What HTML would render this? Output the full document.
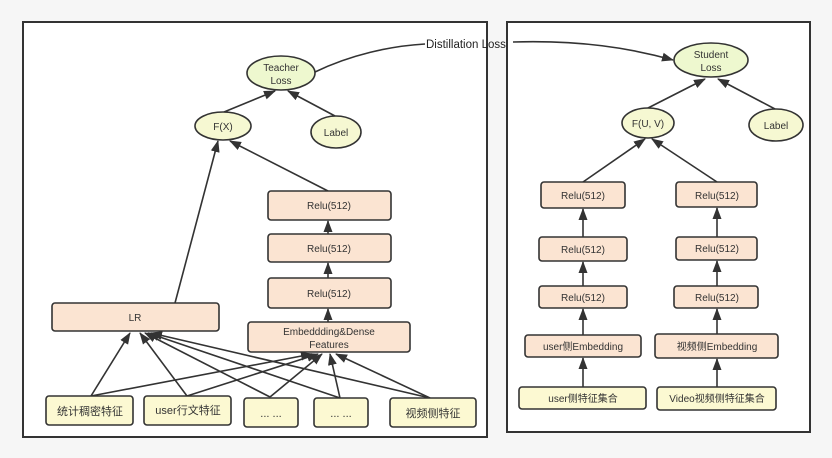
<!DOCTYPE html>
<html><head><meta charset="utf-8"><style>
html,body{margin:0;padding:0;background:#f6f6f6;}
svg{display:block;font-family:"Liberation Sans","Noto Sans CJK SC",sans-serif;}
</style></head><body>
<svg width="832" height="458" viewBox="0 0 832 458" xmlns="http://www.w3.org/2000/svg">
<defs>
<marker id="a" markerWidth="12" markerHeight="12" refX="11" refY="6" orient="auto" markerUnits="userSpaceOnUse">
<path d="M0,1.5 L12,6 L0,10.5 z" fill="#333"/></marker>
</defs>
<rect x="23" y="22" width="464" height="415" fill="#fff" stroke="#333" stroke-width="2"/>
<rect x="507" y="22" width="303" height="410" fill="#fff" stroke="#333" stroke-width="2"/>
<g stroke="#333" stroke-width="1.6" fill="none" marker-end="url(#a)">
<line x1="224" y1="112" x2="275" y2="91"/>
<line x1="335" y1="116" x2="288" y2="91"/>
<line x1="175" y1="303" x2="218" y2="141"/>
<line x1="328" y1="191" x2="230" y2="141"/>
<line x1="328" y1="234" x2="328" y2="221"/>
<line x1="328" y1="278" x2="328" y2="263"/>
<line x1="328" y1="322" x2="328" y2="309"/>
<line x1="91" y1="396" x2="130" y2="333"/>
<line x1="91" y1="396" x2="312" y2="354"/>
<line x1="187" y1="396" x2="140" y2="333"/>
<line x1="187" y1="396" x2="318" y2="354"/>
<line x1="270" y1="397" x2="145" y2="333"/>
<line x1="270" y1="397" x2="322" y2="354"/>
<line x1="340" y1="398" x2="148" y2="333"/>
<line x1="340" y1="398" x2="330" y2="354"/>
<line x1="430" y1="398" x2="151" y2="333"/>
<line x1="430" y1="398" x2="336" y2="354"/>
<line x1="648" y1="108" x2="705" y2="79"/>
<line x1="775" y1="109" x2="718" y2="79"/>
<line x1="583" y1="182" x2="645" y2="139"/>
<line x1="717" y1="182" x2="652" y2="139"/>
<line x1="583" y1="237" x2="583" y2="209"/>
<line x1="583" y1="286" x2="583" y2="262"/>
<line x1="583" y1="335" x2="583" y2="309"/>
<line x1="583" y1="387" x2="583" y2="358"/>
<line x1="717" y1="237" x2="717" y2="208"/>
<line x1="717" y1="286" x2="717" y2="261"/>
<line x1="717" y1="334" x2="717" y2="309"/>
<line x1="717" y1="387" x2="717" y2="359"/>
<path d="M513,42 C580,40 630,48 673,60"/>
</g>
<path d="M315,72 C350,55 390,46 425,44" stroke="#333" stroke-width="1.6" fill="none"/>
<text x="426" y="48" font-size="11.5" fill="#222">Distillation Loss</text>
<g stroke="#333" stroke-width="1.6" fill="#eef8cf">
<ellipse cx="281" cy="73" rx="34" ry="17"/>
<ellipse cx="223" cy="126" rx="28" ry="14" fill="#f6f8d2"/>
<ellipse cx="336" cy="132" rx="25" ry="16" fill="#f6f8d2"/>
<ellipse cx="711" cy="60" rx="37" ry="17"/>
<ellipse cx="648" cy="123" rx="26" ry="15" fill="#f6f8d2"/>
<ellipse cx="776" cy="125" rx="27" ry="16" fill="#f6f8d2"/>
</g>
<g stroke="#333" stroke-width="1.6" fill="#fbe4d2">
<rect x="268" y="191" width="123" height="29" rx="3"/>
<rect x="268" y="234" width="123" height="28" rx="3"/>
<rect x="268" y="278" width="123" height="30" rx="3"/>
<rect x="52" y="303" width="167" height="28" rx="3"/>
<rect x="248" y="322" width="162" height="30" rx="3"/>
<rect x="541" y="182" width="84" height="26" rx="3"/>
<rect x="539" y="237" width="88" height="24" rx="3"/>
<rect x="539" y="286" width="88" height="22" rx="3"/>
<rect x="525" y="335" width="116" height="22" rx="3"/>
<rect x="676" y="182" width="81" height="25" rx="3"/>
<rect x="676" y="237" width="81" height="23" rx="3"/>
<rect x="674" y="286" width="84" height="22" rx="3"/>
<rect x="655" y="334" width="123" height="24" rx="3"/>
</g>
<g stroke="#333" stroke-width="1.6" fill="#fcf9d2">
<rect x="46" y="396" width="87" height="29" rx="3"/>
<rect x="144" y="396" width="87" height="29" rx="3"/>
<rect x="244" y="398" width="54" height="29" rx="3"/>
<rect x="314" y="398" width="54" height="29" rx="3"/>
<rect x="390" y="398" width="86" height="29" rx="3"/>
<rect x="519" y="387" width="127" height="22" rx="3"/>
<rect x="657" y="387" width="119" height="23" rx="3"/>
</g>
<g font-size="10" fill="#333" text-anchor="middle">
<text x="281" y="71">Teacher</text><text x="281" y="84">Loss</text>
<text x="223" y="130">F(X)</text>
<text x="336" y="136">Label</text>
<text x="711" y="58">Student</text><text x="711" y="71">Loss</text>
<text x="648" y="127">F(U, V)</text>
<text x="776" y="129">Label</text>
<text x="329" y="209">Relu(512)</text>
<text x="329" y="252">Relu(512)</text>
<text x="329" y="297">Relu(512)</text>
<text x="135" y="321">LR</text>
<text x="329" y="335">Embeddding&amp;Dense</text><text x="329" y="348">Features</text>
<text x="583" y="199">Relu(512)</text>
<text x="583" y="253">Relu(512)</text>
<text x="583" y="301">Relu(512)</text>
<text x="583" y="350">user侧Embedding</text>
<text x="717" y="199">Relu(512)</text>
<text x="717" y="252">Relu(512)</text>
<text x="717" y="301">Relu(512)</text>
<text x="717" y="350">视频侧Embedding</text>
<text x="583" y="402">user侧特征集合</text>
<text x="717" y="402">Video视频侧特征集合</text>
<g font-size="11"><text x="90" y="415">统计稠密特征</text>
<text x="188" y="414">user行文特征</text>
<text x="271" y="417">... ...</text>
<text x="341" y="417">... ...</text>
<text x="433" y="417">视频侧特征</text></g>
</g>
</svg>
</body></html>
